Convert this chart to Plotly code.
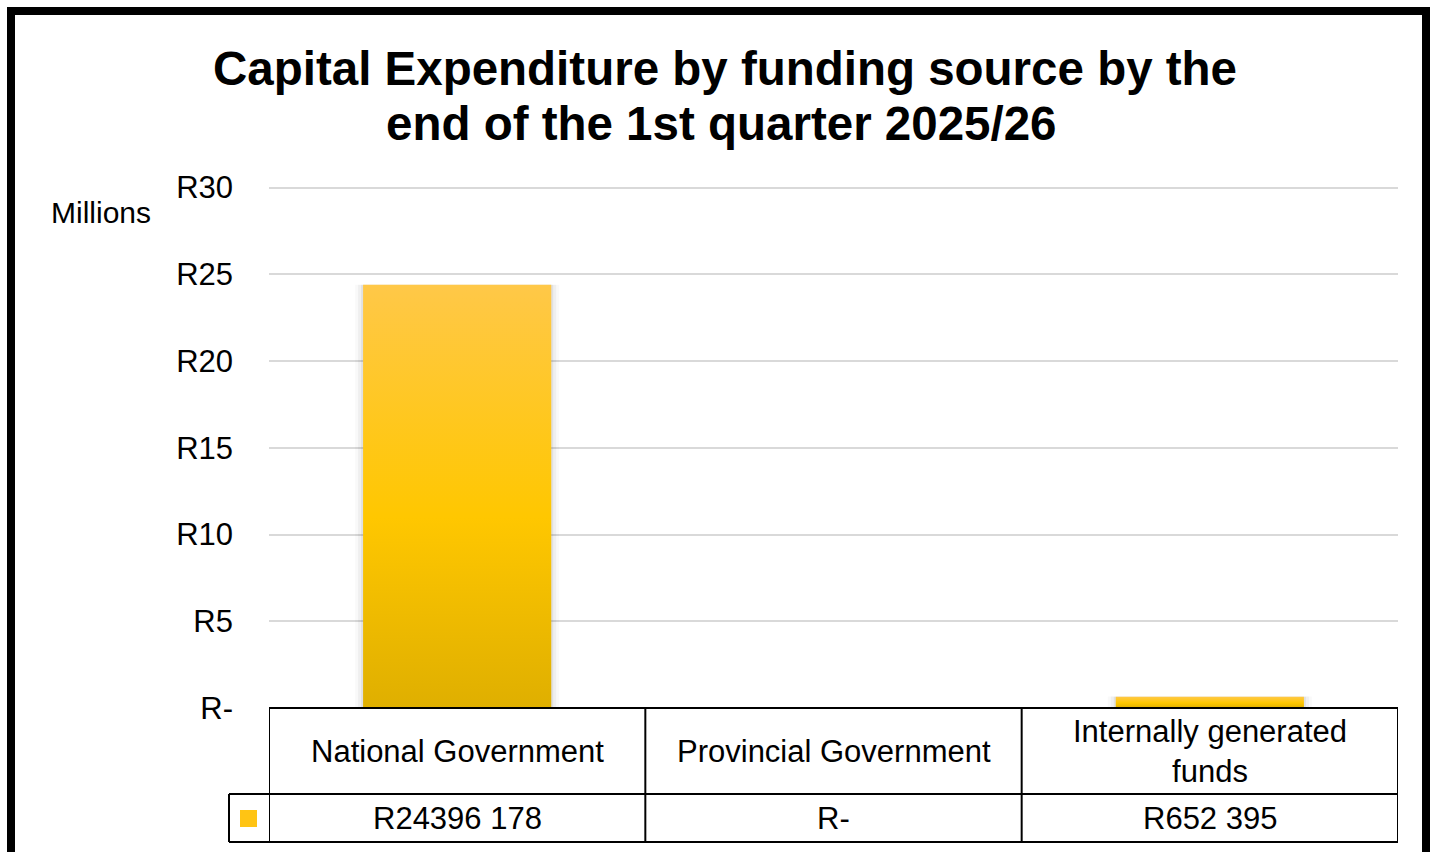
import plotly.graph_objects as go

# Capital expenditure by funding source, 1st quarter 2025/26 (Rand)
categories = ["National Government", "Provincial Government", "Internally generated funds"]
header_labels = ["National Government", "Provincial Government", "Internally generated<br>funds"]
amounts_rand = [24396178, 0, 652395]

y_tick_values = [0, 5, 10, 15, 20, 25, 30]
y_tick_labels = ["R-", "R5", "R10", "R15", "R20", "R25", "R30"]

title_lines = ["Capital Expenditure by funding source by the", "end of the 1st quarter 2025/26"]

FONT = "Liberation Sans, Arial, sans-serif"
W, H = 1436, 852
PLOT_L, PLOT_R, PLOT_T, PLOT_B = 269, 1398, 185, 708
BAR_WIDTH = 0.5
GRADIENT = [[0.0, "#DFAF00"], [0.45, "#FFC700"], [1.0, "#FFC848"]]
# a little headroom so the top gridline is drawn
Y_MAX = 30.15


def fmt_rand(v):
    if v == 0:
        return "R-"
    if v >= 1000:
        return f"R{v // 1000} {v % 1000:03d}"
    return f"R{v}"


def xp(px):
    return (px - PLOT_L) / (PLOT_R - PLOT_L)


def yp(py):
    return (PLOT_B - py) / (PLOT_B - PLOT_T)


fig = go.Figure()

values_m = [a / 1e6 for a in amounts_rand]
px_per_unit = (PLOT_R - PLOT_L) / 3.0

for i, v in enumerate(values_m):
    if v <= 0:
        continue
    # soft shadow around each column
    for k, alpha in [(8, 0.025), (5, 0.04), (2, 0.06)]:
        d = k / px_per_unit
        x0, x1 = i - BAR_WIDTH / 2 - d, i + BAR_WIDTH / 2 + d
        fig.add_trace(go.Scatter(
            x=[x0, x1, x1, x0, x0], y=[0, 0, v + d * 0.3, v + d * 0.3, 0],
            mode="lines", fill="toself", line=dict(width=0),
            fillcolor=f"rgba(0,0,0,{alpha})", hoverinfo="skip", showlegend=False,
        ))
    x0, x1 = i - BAR_WIDTH / 2, i + BAR_WIDTH / 2
    fig.add_trace(go.Scatter(
        x=[x0, x1, x1, x0, x0], y=[0, 0, v, v, 0],
        mode="lines", fill="toself", line=dict(width=0),
        fillgradient=dict(type="vertical", colorscale=GRADIENT),
        name=categories[i], showlegend=False,
    ))

fig.update_xaxes(range=[-0.5, 2.5], showticklabels=False, showgrid=False,
                 zeroline=False, showline=False)
fig.update_yaxes(range=[0, Y_MAX], tickvals=y_tick_values, ticktext=y_tick_labels,
                 tickfont=dict(family=FONT, size=31, color="black"),
                 gridcolor="#D9D9D9", gridwidth=1.5, zeroline=False, showline=False,
                 ticks="", ticklabelstandoff=35)

shapes = []
line_style = dict(color="black", width=2)
row1_bottom = yp(794)
row2_bottom = yp(842)

# table grid beneath the axis
for yv in [0, row1_bottom, row2_bottom]:
    shapes.append(dict(type="line", xref="x", yref="paper", x0=-0.5, x1=2.5,
                       y0=yv, y1=yv, line=line_style))
for xv in [-0.5, 0.5, 1.5, 2.5]:
    shapes.append(dict(type="line", xref="x", yref="paper", x0=xv, x1=xv,
                       y0=0, y1=row2_bottom, line=line_style))
# legend key cell
key_left = xp(229)
shapes.append(dict(type="line", xref="paper", yref="paper", x0=key_left, x1=0,
                   y0=row1_bottom, y1=row1_bottom, line=line_style))
shapes.append(dict(type="line", xref="paper", yref="paper", x0=key_left, x1=0,
                   y0=row2_bottom, y1=row2_bottom, line=line_style))
shapes.append(dict(type="line", xref="paper", yref="paper", x0=key_left, x1=key_left,
                   y0=row1_bottom, y1=row2_bottom, line=line_style))
shapes.append(dict(type="rect", xref="paper", yref="paper", x0=xp(240), x1=xp(257),
                   y0=yp(827), y1=yp(810), line=dict(width=0), fillcolor="#FFC414"))
# outer frame
shapes.append(dict(type="rect", xref="paper", yref="paper", x0=xp(11), x1=xp(1426),
                   y0=yp(900), y1=yp(11), line=dict(color="black", width=8),
                   fillcolor="rgba(0,0,0,0)", layer="above"))

annotations = []
row1_mid = yp(751)
row2_mid = yp(818)
for i, (lab, amt) in enumerate(zip(header_labels, amounts_rand)):
    annotations.append(dict(x=i, y=row1_mid, xref="x", yref="paper", text=lab,
                            showarrow=False, xanchor="center", yanchor="middle",
                            font=dict(family=FONT, size=31, color="black")))
    annotations.append(dict(x=i, y=row2_mid, xref="x", yref="paper", text=fmt_rand(amt),
                            showarrow=False, xanchor="center", yanchor="middle",
                            font=dict(family=FONT, size=31, color="black")))
annotations.append(dict(x=xp(101), y=yp(213), xref="paper", yref="paper", text="Millions",
                        showarrow=False, xanchor="center", yanchor="middle",
                        font=dict(family=FONT, size=30, color="black")))

# two-line chart title
for line_text, cy, cx in zip(title_lines, [68, 124], [725, 721]):
    annotations.append(dict(x=xp(cx), y=yp(cy), xref="paper", yref="paper",
                            text=f"<b>{line_text}</b>", showarrow=False,
                            xanchor="center", yanchor="middle",
                            font=dict(family=FONT, size=47.5, color="black")))

fig.update_layout(
    width=W, height=H, autosize=False,
    margin=dict(l=PLOT_L, r=W - PLOT_R, t=PLOT_T, b=H - PLOT_B),
    paper_bgcolor="white", plot_bgcolor="white",
    shapes=shapes, annotations=annotations, showlegend=False,
)

fig.write_html("out.html")
